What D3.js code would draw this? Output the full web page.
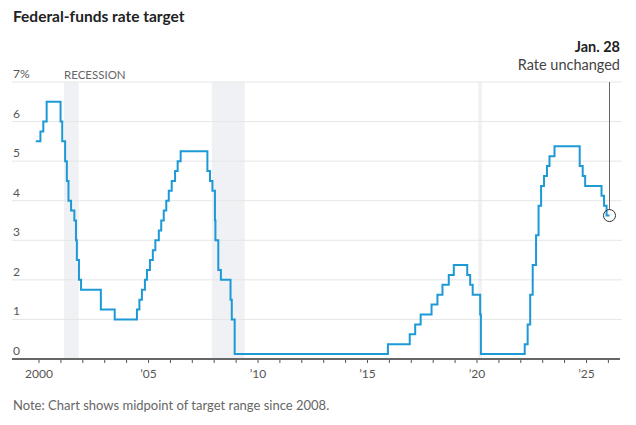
<!DOCTYPE html>
<html>
<head>
<meta charset="utf-8">
<script src="https://cdn.jsdelivr.net/npm/d3@7"></script>
<style>
  body { margin: 0; background: #fff; }
  text { font-family: Lato, "Noto Sans", sans-serif; }
</style>
</head>
<body>
<div id="chart-area"></div>
<script>
// rate decisions: date of change and new target (midpoint of range since Dec 2008)
const rateDates = [
  "1999-11-16", "2000-02-02", "2000-03-21", "2000-05-16",
  "2001-01-03", "2001-01-31", "2001-03-20", "2001-04-18", "2001-05-15", "2001-06-27",
  "2001-08-21", "2001-09-17", "2001-10-02", "2001-11-06", "2001-12-11",
  "2002-11-06", "2003-06-25",
  "2004-06-30", "2004-08-10", "2004-09-21", "2004-11-10", "2004-12-14",
  "2005-02-02", "2005-03-22", "2005-05-03", "2005-06-30", "2005-08-09", "2005-09-20",
  "2005-11-01", "2005-12-13", "2006-01-31", "2006-03-28", "2006-05-10", "2006-06-29",
  "2007-09-18", "2007-10-31", "2007-12-11", "2008-01-22", "2008-01-30", "2008-03-18",
  "2008-04-30", "2008-10-08", "2008-10-29", "2008-12-16",
  "2015-12-16", "2016-12-14", "2017-03-15", "2017-06-14", "2017-12-13",
  "2018-03-21", "2018-06-13", "2018-09-26", "2018-12-19",
  "2019-07-31", "2019-09-18", "2019-10-30", "2020-03-03", "2020-03-15",
  "2022-03-16", "2022-05-04", "2022-06-15", "2022-07-27", "2022-09-21", "2022-11-02",
  "2022-12-14", "2023-02-01", "2023-03-22", "2023-05-03", "2023-07-26",
  "2024-09-18", "2024-11-07", "2024-12-18",
  "2025-09-17", "2025-10-29", "2025-12-10", "2026-01-28"
]
const rateValues = [
  5.5, 5.75, 6.0, 6.5,
  6.0, 5.5, 5.0, 4.5, 4.0, 3.75,
  3.5, 3.0, 2.5, 2.0, 1.75,
  1.25, 1.0,
  1.25, 1.5, 1.75, 2.0, 2.25,
  2.5, 2.75, 3.0, 3.25, 3.5, 3.75,
  4.0, 4.25, 4.5, 4.75, 5.0, 5.25,
  4.75, 4.5, 4.25, 3.5, 3.0, 2.25,
  2.0, 1.5, 1.0, 0.125,
  0.375, 0.625, 0.875, 1.125, 1.375,
  1.625, 1.875, 2.125, 2.375,
  2.125, 1.875, 1.625, 1.125, 0.125,
  0.375, 0.875, 1.625, 2.375, 3.125, 3.875,
  4.375, 4.625, 4.875, 5.125, 5.375,
  4.875, 4.625, 4.375,
  4.125, 3.875, 3.625, 3.625
]

const recessionStart = ["2001-03-01", "2007-12-01", "2020-02-01"]
const recessionEnd = ["2001-11-01", "2009-06-01", "2020-04-01"]

const yTicks = [0, 1, 2, 3, 4, 5, 6, 7]
const xTickYears = d3.range(2000, 2027)
const xLabelYears = [2000, 2005, 2010, 2015, 2020, 2025]

const WIDTH = 636
const HEIGHT = 425

const parse = d3.timeParse("%Y-%m-%d")
const data = rateDates.map((d, i) => ({ date: parse(d), rate: rateValues[i] }))
const recessions = recessionStart.map((d, i) => ({ start: parse(d), end: parse(recessionEnd[i]) }))

const svg = d3.select("#chart-area").append("svg")
  .attr("width", WIDTH)
  .attr("height", HEIGHT)

// scales
const x = d3.scaleTime()
  .domain([new Date(2000, 0, 1), new Date(2025, 0, 1)])
  .range([38.5, 586])
const y = d3.scaleLinear()
  .domain([0, 7])
  .range([359, 82])

// title
svg.append("text")
  .attr("x", 13)
  .attr("y", 22)
  .attr("font-size", "15.5px")
  .attr("font-weight", "bold")
  .attr("fill", "#222")
  .text("Federal-funds rate target")

// recession bands
svg.selectAll("rect.recession")
  .data(recessions)
  .enter().append("rect")
  .attr("class", "recession")
  .attr("x", d => x(d.start))
  .attr("width", d => x(d.end) - x(d.start))
  .attr("y", y(7))
  .attr("height", y(0) - y(7))
  .attr("fill", "#eff1f4")

svg.append("text")
  .attr("x", x(recessions[0].start))
  .attr("y", 79)
  .attr("font-size", "11.5px")
  .attr("fill", "#666")
  .text("RECESSION")

// horizontal gridlines + labels
svg.selectAll("line.grid")
  .data(yTicks.filter(d => d > 0))
  .enter().append("line")
  .attr("class", "grid")
  .attr("x1", 12)
  .attr("x2", 622)
  .attr("y1", d => y(d))
  .attr("y2", d => y(d))
  .attr("stroke", "#e6e6e6")
  .attr("stroke-width", 1)

svg.selectAll("text.ylabel")
  .data(yTicks)
  .enter().append("text")
  .attr("class", "ylabel")
  .attr("x", 13)
  .attr("y", d => y(d) - 4)
  .attr("font-size", "12px")
  .attr("fill", "#555")
  .text(d => d === 7 ? "7%" : d)

// x axis
const xAxis = d3.axisBottom(x)
  .tickValues(xTickYears.map(yr => new Date(yr, 0, 1)))
  .tickSize(4)
  .tickFormat(d => {
    const yr = d.getFullYear()
    if (!xLabelYears.includes(yr)) return ""
    return yr === 2000 ? "2000" : "\u2019" + String(yr).slice(2)
  })

const xg = svg.append("g")
  .attr("transform", `translate(0,${y(0)})`)
  .call(xAxis)
xg.select(".domain").remove()
xg.selectAll(".tick line").attr("stroke", "#555")
xg.selectAll(".tick text")
  .attr("y", 10)
  .attr("font-size", "12px")
  .attr("font-family", "Lato, 'Noto Sans', sans-serif")
  .attr("fill", "#555")

svg.append("line")
  .attr("x1", 12)
  .attr("x2", 620)
  .attr("y1", y(0))
  .attr("y2", y(0))
  .attr("stroke", "#666")
  .attr("stroke-width", 2)

// rate line
const line = d3.line()
  .x(d => x(d.date))
  .y(d => y(d.rate))
  .curve(d3.curveStepAfter)

svg.append("path")
  .datum(data)
  .attr("d", line)
  .attr("fill", "none")
  .attr("stroke", "#1d9ad6")
  .attr("stroke-width", 2)

// annotation for latest decision
const last = data[data.length - 1]
svg.append("line")
  .attr("x1", x(last.date))
  .attr("x2", x(last.date))
  .attr("y1", y(7))
  .attr("y2", y(last.rate) - 6)
  .attr("stroke", "#666")
  .attr("stroke-width", 1)

svg.append("circle")
  .attr("cx", x(last.date))
  .attr("cy", y(last.rate))
  .attr("r", 6)
  .attr("fill", "none")
  .attr("stroke", "#333")
  .attr("stroke-width", 1)

svg.append("text")
  .attr("x", 620)
  .attr("y", 52)
  .attr("text-anchor", "end")
  .attr("font-size", "14.5px")
  .attr("font-weight", "bold")
  .attr("fill", "#222")
  .text("Jan. 28")

svg.append("text")
  .attr("x", 620)
  .attr("y", 70)
  .attr("text-anchor", "end")
  .attr("font-size", "14.5px")
  .attr("fill", "#444")
  .text("Rate unchanged")

// note
svg.append("text")
  .attr("x", 13)
  .attr("y", 410)
  .attr("font-size", "13px")
  .attr("fill", "#666")
  .text("Note: Chart shows midpoint of target range since 2008.")
</script>
</body>
</html>
